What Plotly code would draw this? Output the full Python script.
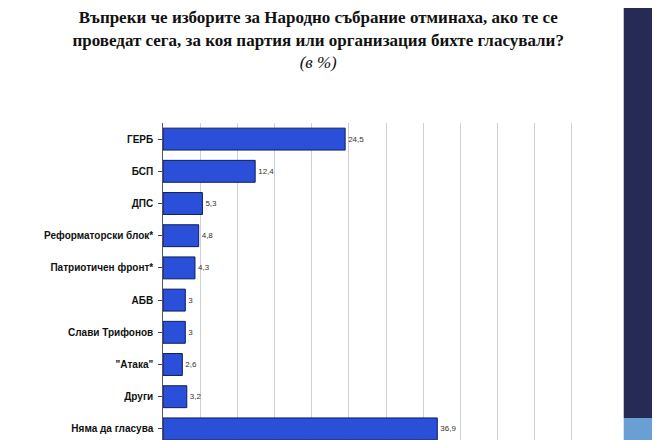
import plotly.graph_objects as go

categories = ["ГЕРБ", "БСП", "ДПС", "Реформаторски блок*", "Патриотичен фронт*",
              "АБВ", "Слави Трифонов", "\"Атака\"", "Други", "Няма да гласува"]
values = [24.5, 12.4, 5.3, 4.8, 4.3, 3, 3, 2.6, 3.2, 36.9]
labels = [str(v).replace(".", ",") for v in values]

fig = go.Figure(go.Bar(
    y=categories, x=values, orientation="h", text=labels, textposition="outside",
    textfont=dict(size=8, color="#333", family="Arial"), cliponaxis=False,
    marker=dict(color="#2a4fd8", line=dict(color="#0d1d60", width=1)), width=0.68))

fig.update_layout(
    width=660, height=440, paper_bgcolor="white", plot_bgcolor="white",
    margin=dict(l=155, r=59, t=115, b=3, autoexpand=False), showlegend=False,
    title=dict(
        text="<b>Въпреки че изборите за Народно събрание отминаха, ако те се<br>"
             "проведат сега, за коя партия или организация бихте гласували?</b><br>"
             "<i>(в %)</i>",
        x=0.47, xanchor="center", y=0.965, yanchor="top",
        font=dict(family="Liberation Serif", size=17, color="#111")),
    shapes=[
        dict(type="rect", xref="paper", yref="paper", x0=1.033, x1=1.2, y0=0.084, y1=1.4,
             fillcolor="#262b55", line_width=0, layer="below"),
        dict(type="rect", xref="paper", yref="paper", x0=1.033, x1=1.2, y0=-0.1, y1=0.084,
             fillcolor="#6a9fd3", line_width=0, layer="below"),
    ],
)
fig.update_xaxes(range=[0, 60], dtick=5, showticklabels=False, showgrid=True,
                 gridcolor="#d0d0d0", showline=True, linecolor="#555", ticks="outside",
                 ticklen=4, zeroline=False, automargin=False)
fig.update_yaxes(autorange="reversed", showline=True, linecolor="#555", ticks="outside",
                 ticklen=4, tickfont=dict(family="Arial", size=10, color="#111"),
                 automargin=False, tickprefix="<b>", ticksuffix="</b> ")

fig.write_html("out.html")
